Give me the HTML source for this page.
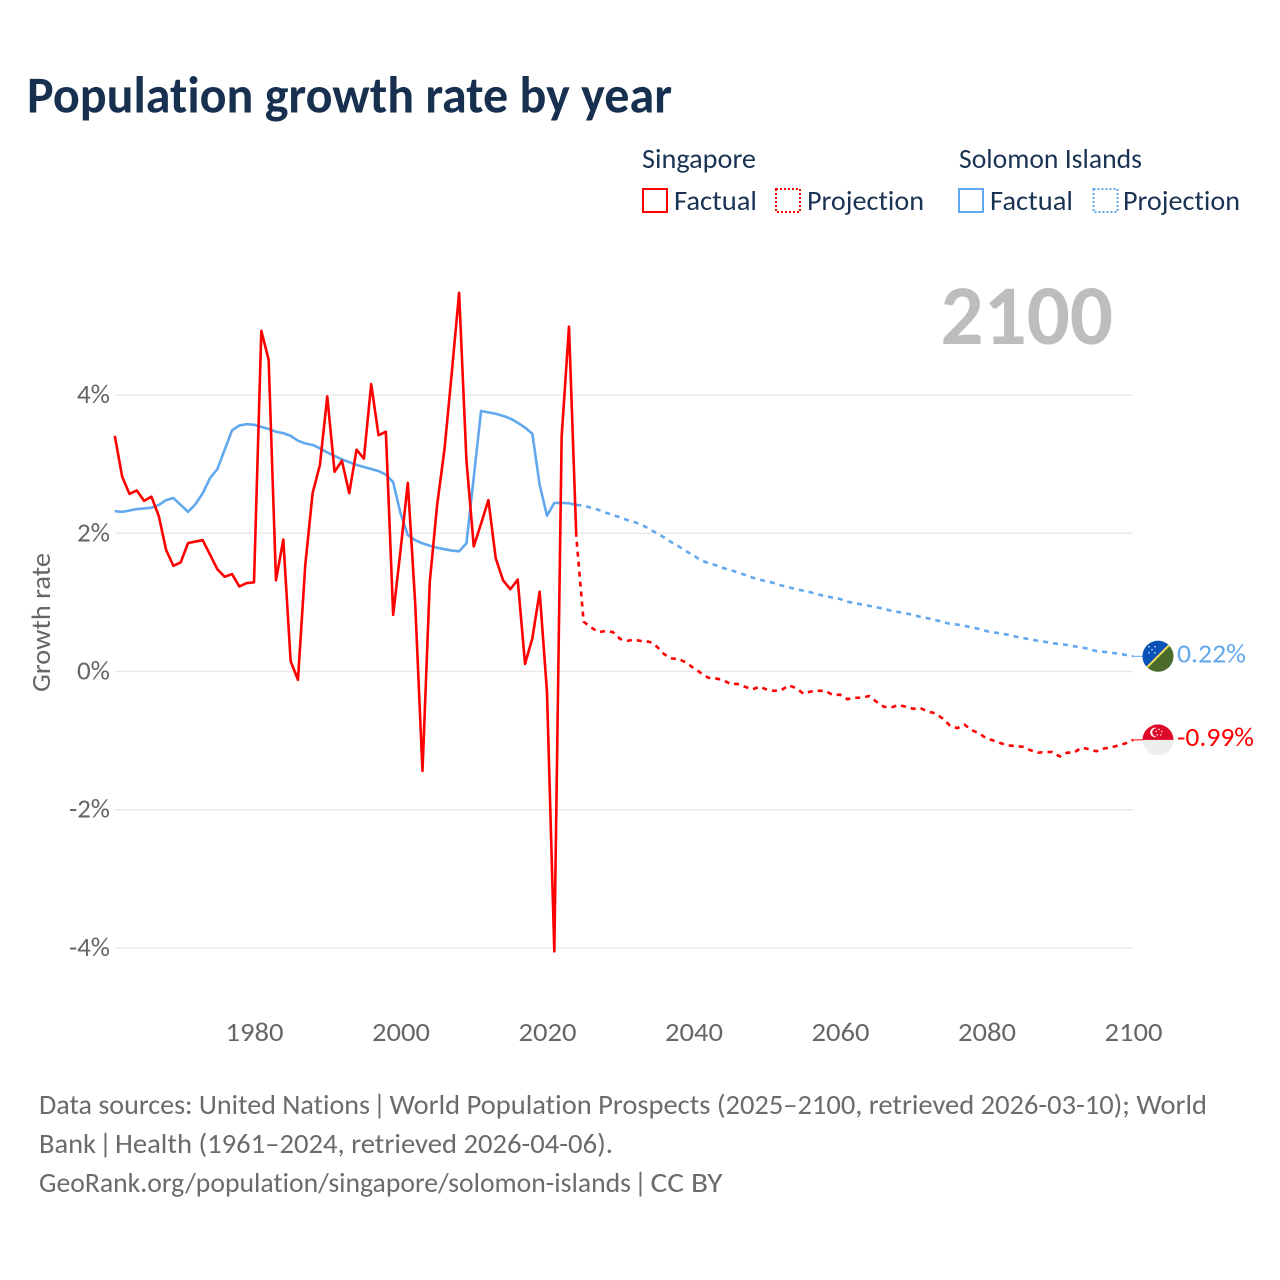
<!DOCTYPE html>
<html lang="en">
<head>
<meta charset="utf-8">
<title>Population growth rate by year</title>
<style>
html,body{margin:0;padding:0;background:#fff;}
svg{display:block;font-family:"Carlito","Lato","Liberation Sans",sans-serif;font-variant-ligatures:none;}
</style>
</head>
<body>
<svg id="chart" width="1280" height="1280" viewBox="0 0 1280 1280" xmlns="http://www.w3.org/2000/svg">
  <rect width="1280" height="1280" fill="#ffffff"/>
  <text x="27" y="112.5" font-size="52" font-weight="700" fill="#17304f" textLength="645" lengthAdjust="spacingAndGlyphs">Population growth rate by year</text>

  <g font-size="28" fill="#1a3353">
    <text x="642" y="168" textLength="114" lengthAdjust="spacingAndGlyphs">Singapore</text>
    <rect x="643" y="189" width="24" height="23" fill="none" stroke="#ff0000" stroke-width="2"/>
    <text x="674" y="210" textLength="83" lengthAdjust="spacingAndGlyphs">Factual</text>
    <rect x="776" y="189" width="24" height="23" fill="none" stroke="#ff0000" stroke-width="2" stroke-dasharray="2 2"/>
    <text x="807" y="210" textLength="117" lengthAdjust="spacingAndGlyphs">Projection</text>
    <text x="959" y="168" textLength="183" lengthAdjust="spacingAndGlyphs">Solomon Islands</text>
    <rect x="959" y="189" width="24" height="23" fill="none" stroke="#61a8ee" stroke-width="2"/>
    <text x="990" y="210" textLength="83" lengthAdjust="spacingAndGlyphs">Factual</text>
    <rect x="1093.5" y="189" width="24" height="23" fill="none" stroke="#61a8ee" stroke-width="2" stroke-dasharray="2 2"/>
    <text x="1123" y="210" textLength="117" lengthAdjust="spacingAndGlyphs">Projection</text>
  </g>

  <text x="940.5" y="344" font-size="85" font-weight="700" fill="#bdbdbd" textLength="172.5" lengthAdjust="spacingAndGlyphs">2100</text>

  <g id="grid"></g>
  <g id="yticks"></g>
  <g id="xticks"></g>
  <text transform="translate(50,622.5) rotate(-90)" text-anchor="middle" font-size="27" fill="#666666" textLength="139" lengthAdjust="spacingAndGlyphs">Growth rate</text>

  <g id="series"></g>

  <defs>
    <clipPath id="flag-clip-sb"><circle cx="0" cy="0" r="15.5"/></clipPath>
    <clipPath id="flag-clip-sg"><circle cx="0" cy="0" r="15.5"/></clipPath>
  </defs>
  <g id="flag-solomon">
    <g clip-path="url(#flag-clip-sb)">
      <rect x="-16" y="-16" width="32" height="32" fill="#4b6b2b"/>
      <polygon points="-16,-16 16,-16 -16,16" fill="#0a52b8"/>
      <line x1="-16" y1="16" x2="16" y2="-16" stroke="#f2dc58" stroke-width="2"/>
      <g fill="#dfe8f6">
        <circle cx="-9" cy="-9.5" r=".8"/><circle cx="-3" cy="-9.5" r=".8"/><circle cx="-6" cy="-6.5" r=".8"/><circle cx="-9" cy="-3.5" r=".8"/><circle cx="-3" cy="-3.5" r=".8"/>
      </g>
    </g>
  </g>
  <g id="flag-singapore">
    <g clip-path="url(#flag-clip-sg)">
      <rect x="-16" y="0" width="32" height="16" fill="#eeeeee"/>
      <rect x="-16" y="-16" width="32" height="16" fill="#df0a2a"/>
      <circle cx="-3" cy="-7.5" r="4.8" fill="#ffffff"/>
      <circle cx="-1.4" cy="-7.5" r="4.3" fill="#df0a2a"/>
      <g fill="#ffffff">
        <circle cx="1" cy="-10.5" r=".75"/><circle cx="3.8" cy="-8.5" r=".75"/><circle cx="2.8" cy="-5" r=".75"/><circle cx="-.8" cy="-5" r=".75"/><circle cx="-1.8" cy="-8.5" r=".75"/>
      </g>
    </g>
  </g>
  <text id="end-label-solomon" x="1177" font-size="27" fill="#61a8ee" textLength="69" lengthAdjust="spacingAndGlyphs"></text>
  <text id="end-label-singapore" x="1177" font-size="27" fill="#ff0000" textLength="77" lengthAdjust="spacingAndGlyphs"></text>

  <g font-size="28" fill="#6b6b6b">
    <text x="39" y="1114" textLength="331" lengthAdjust="spacingAndGlyphs">Data sources: United Nations</text>
    <text x="379.5" y="1114" text-anchor="middle">|</text>
    <text x="389.5" y="1114" textLength="817.5" lengthAdjust="spacingAndGlyphs">World Population Prospects (2025–2100, retrieved 2026-03-10); World</text>
    <text x="39" y="1153" textLength="57" lengthAdjust="spacingAndGlyphs">Bank</text>
    <text x="105.5" y="1153" text-anchor="middle">|</text>
    <text x="115" y="1153" textLength="498" lengthAdjust="spacingAndGlyphs">Health (1961–2024, retrieved 2026-04-06).</text>
    <text x="39" y="1192" textLength="592" lengthAdjust="spacingAndGlyphs">GeoRank.org/population/singapore/solomon-islands</text>
    <text x="640.5" y="1192" text-anchor="middle">|</text>
    <text x="650.5" y="1192" textLength="72" lengthAdjust="spacingAndGlyphs">CC BY</text>
  </g>
</svg>
<script>
// Chart data
const factualStartYear = 1961;
const projectionStartYear = 2024;
const xTickLabels = [1980, 2000, 2020, 2040, 2060, 2080, 2100];
const yTickValues = [4, 2, 0, -2, -4];
const singaporeFactual = [3.41,2.82,2.57,2.62,2.47,2.53,2.25,1.76,1.53,1.58,1.86,1.88,1.90,1.69,1.48,1.37,1.41,1.23,1.28,1.29,4.93,4.51,1.32,1.91,0.15,-0.12,1.54,2.58,2.99,3.98,2.89,3.05,2.58,3.21,3.08,4.16,3.42,3.47,0.82,1.75,2.73,1.0,-1.44,1.30,2.41,3.21,4.32,5.48,3.06,1.81,2.14,2.48,1.64,1.32,1.19,1.33,0.11,0.48,1.155,-0.3,-4.05,3.40,4.99,1.95];
const singaporeProjection = [1.95,0.72,0.64,0.57,0.585,0.57,0.47,0.445,0.46,0.437,0.43,0.36,0.25,0.19,0.18,0.13,0.05,-0.02,-0.09,-0.10,-0.12,-0.18,-0.18,-0.22,-0.26,-0.22,-0.26,-0.28,-0.27,-0.20,-0.24,-0.32,-0.29,-0.28,-0.28,-0.34,-0.335,-0.40,-0.38,-0.38,-0.355,-0.44,-0.51,-0.52,-0.485,-0.51,-0.54,-0.53,-0.58,-0.605,-0.68,-0.78,-0.82,-0.77,-0.85,-0.895,-0.97,-1.0,-1.04,-1.07,-1.08,-1.09,-1.14,-1.175,-1.165,-1.165,-1.23,-1.175,-1.17,-1.10,-1.125,-1.155,-1.115,-1.10,-1.07,-1.04,-0.99];
const solomonFactual = [2.32,2.31,2.33,2.35,2.36,2.37,2.41,2.48,2.51,2.41,2.31,2.42,2.58,2.80,2.93,3.21,3.49,3.56,3.58,3.57,3.54,3.51,3.47,3.45,3.41,3.34,3.30,3.28,3.23,3.17,3.12,3.07,3.03,2.99,2.96,2.93,2.90,2.85,2.74,2.29,1.975,1.90,1.855,1.82,1.79,1.77,1.75,1.74,1.855,2.81,3.77,3.75,3.73,3.70,3.66,3.60,3.53,3.44,2.70,2.255,2.44,2.44,2.435,2.41];
const solomonProjection = [2.41,2.40,2.37,2.34,2.30,2.265,2.23,2.19,2.16,2.12,2.06,2.0,1.94,1.87,1.81,1.74,1.68,1.61,1.57,1.54,1.50,1.47,1.435,1.40,1.36,1.33,1.305,1.28,1.245,1.22,1.19,1.17,1.145,1.115,1.09,1.07,1.05,1.01,0.99,0.97,0.95,0.93,0.905,0.88,0.86,0.84,0.82,0.79,0.77,0.745,0.72,0.69,0.68,0.66,0.64,0.615,0.585,0.565,0.55,0.53,0.505,0.485,0.465,0.445,0.43,0.41,0.395,0.385,0.365,0.35,0.325,0.295,0.285,0.27,0.26,0.24,0.22];

const SVG_NS = 'http://www.w3.org/2000/svg';
const RED = '#ff0000';
const BLUE = '#61a8ee';
function xScale(year) { return 1133 - (2100 - year) * 7.325; }
function yScale(value) { return 671.5 - value * 69.1; }
function pathFor(values, startYear) {
  return values.map(function (v, i) {
    return xScale(startYear + i).toFixed(2) + ',' + yScale(v).toFixed(2);
  }).join(' ');
}
function addLine(values, startYear, color, dashOffset, name) {
  const line = document.createElementNS(SVG_NS, 'polyline');
  
  
  line.setAttribute('points', pathFor(values, startYear));
  line.setAttribute('fill', 'none');
  line.setAttribute('stroke', color);
  line.setAttribute('stroke-width', '2.6');
  line.setAttribute('stroke-linejoin', 'round');
  if (dashOffset !== null) {
    line.setAttribute('stroke-dasharray', '5 5');
    line.setAttribute('stroke-dashoffset', dashOffset);
  }
  document.getElementById('series').appendChild(line);
}
function addLeader(value, color, name) {
  const leader = document.createElementNS(SVG_NS, 'line');
  
  
  leader.setAttribute('x1', xScale(2100));
  leader.setAttribute('x2', '1144');
  leader.setAttribute('y1', yScale(value));
  leader.setAttribute('y2', yScale(value));
  leader.setAttribute('stroke', color);
  leader.setAttribute('stroke-width', '1');
  document.getElementById('series').appendChild(leader);
}

yTickValues.forEach(function (v) {
  const g = document.createElementNS(SVG_NS, 'line');
  
  
  g.setAttribute('x1', '115');
  g.setAttribute('x2', '1133');
  g.setAttribute('y1', yScale(v));
  g.setAttribute('y2', yScale(v));
  g.setAttribute('stroke', '#e9e9e9');
  g.setAttribute('stroke-width', '1.5');
  document.getElementById('grid').appendChild(g);
  const t = document.createElementNS(SVG_NS, 'text');
  
  
  t.setAttribute('x', '110');
  t.setAttribute('y', yScale(v) + 8);
  t.setAttribute('text-anchor', 'end');
  t.setAttribute('font-size', '27');
  t.setAttribute('fill', '#666666');
  t.setAttribute('textLength', v < 0 ? '41' : '33');
  t.setAttribute('lengthAdjust', 'spacingAndGlyphs');
  t.textContent = v + '%';
  document.getElementById('yticks').appendChild(t);
});
xTickLabels.forEach(function (year) {
  const t = document.createElementNS(SVG_NS, 'text');
  
  
  t.setAttribute('x', xScale(year) + 0.5);
  t.setAttribute('y', '1041');
  t.setAttribute('text-anchor', 'middle');
  t.setAttribute('font-size', '27');
  t.setAttribute('fill', '#666666');
  t.setAttribute('textLength', '58');
  t.setAttribute('lengthAdjust', 'spacingAndGlyphs');
  t.textContent = year;
  document.getElementById('xticks').appendChild(t);
});

addLine(solomonFactual, factualStartYear, BLUE, null, 'solomon-islands-factual-line');
addLine(solomonProjection, projectionStartYear, BLUE, 0, 'solomon-islands-projection-line');
addLine(singaporeFactual, factualStartYear, RED, null, 'singapore-factual-line');
addLine(singaporeProjection, projectionStartYear, RED, 5, 'singapore-projection-line');

const solomonEnd = solomonProjection[solomonProjection.length - 1];
const singaporeEnd = singaporeProjection[singaporeProjection.length - 1];
addLeader(solomonEnd, BLUE, 'solomon-islands-leader-line');
addLeader(singaporeEnd, RED, 'singapore-leader-line');
document.getElementById('flag-solomon').setAttribute('transform', 'translate(1158,' + yScale(solomonEnd) + ')');
document.getElementById('flag-singapore').setAttribute('transform', 'translate(1158,' + yScale(singaporeEnd) + ')');
const solomonLabel = document.getElementById('end-label-solomon');
solomonLabel.setAttribute('y', yScale(solomonEnd) + 6);
solomonLabel.textContent = solomonEnd.toFixed(2) + '%';
const singaporeLabel = document.getElementById('end-label-singapore');
singaporeLabel.setAttribute('y', yScale(singaporeEnd) + 6);
singaporeLabel.textContent = singaporeEnd.toFixed(2) + '%';
</script>
</body>
</html>
